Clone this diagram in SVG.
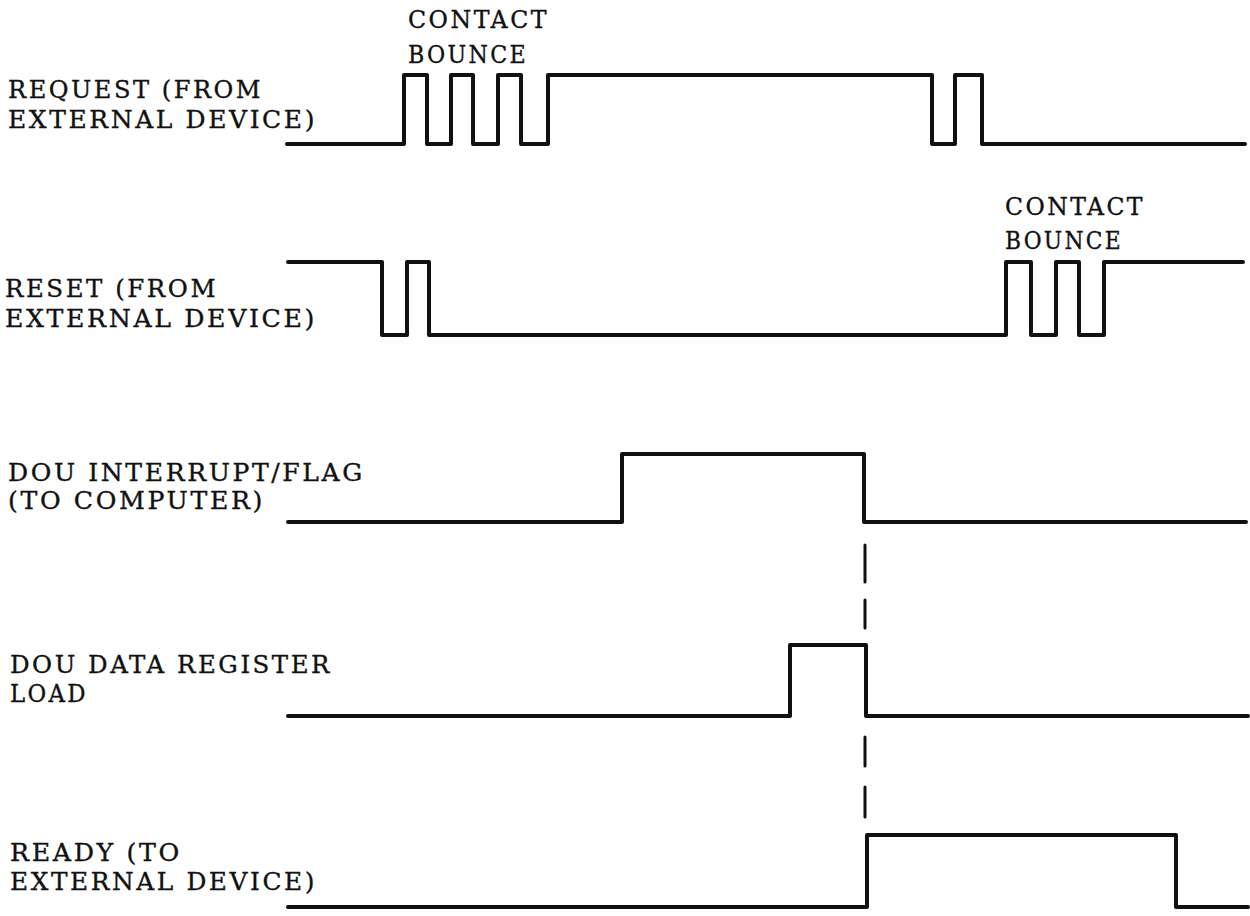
<svg xmlns="http://www.w3.org/2000/svg" width="1250" height="916" viewBox="0 0 1250 916">
<style>
.lbl{font-family:"DejaVu Serif","Liberation Serif",serif;font-size:24px;letter-spacing:2.5px;fill:#111;stroke:#111;stroke-width:0.35;}
.wave{fill:none;stroke:#111;stroke-width:4;stroke-linejoin:round;stroke-linecap:round;}
.dash{fill:none;stroke:#111;stroke-width:3;stroke-linecap:round;}
</style>
<rect width="1250" height="916" fill="#ffffff"/>
<g id="request">
<text class="lbl" x="8" y="98" textLength="255" lengthAdjust="spacingAndGlyphs">REQUEST (FROM</text>
<text class="lbl" x="8" y="128" textLength="309" lengthAdjust="spacingAndGlyphs">EXTERNAL DEVICE)</text>
<text class="lbl" x="408" y="28" textLength="141" lengthAdjust="spacingAndGlyphs">CONTACT</text>
<text class="lbl" x="408" y="63" textLength="120" lengthAdjust="spacingAndGlyphs">BOUNCE</text>
<path class="wave" d="M287,144 H404 V75 H427 V144 H451 V75 H473 V144 H498 V75 H521 V144 H548 V75 H932 V144 H955 V75 H982 V144 H1245"/>
</g>
<g id="reset">
<text class="lbl" x="5" y="297" textLength="213" lengthAdjust="spacingAndGlyphs">RESET (FROM</text>
<text class="lbl" x="5" y="327" textLength="312" lengthAdjust="spacingAndGlyphs">EXTERNAL DEVICE)</text>
<text class="lbl" x="1005" y="215" textLength="140" lengthAdjust="spacingAndGlyphs">CONTACT</text>
<text class="lbl" x="1005" y="249" textLength="118" lengthAdjust="spacingAndGlyphs">BOUNCE</text>
<path class="wave" d="M288,262 H382 V335 H407 V262 H429 V335 H1006 V262 H1031 V335 H1056 V262 H1079 V335 H1104 V262 H1243"/>
</g>
<g id="interrupt">
<text class="lbl" x="8" y="481" textLength="357" lengthAdjust="spacingAndGlyphs">DOU INTERRUPT/FLAG</text>
<text class="lbl" x="8" y="509" textLength="257" lengthAdjust="spacingAndGlyphs">(TO COMPUTER)</text>
<path class="wave" d="M288,522 H622 V454 H864 V522 H1246"/>
</g>
<g id="dataload">
<text class="lbl" x="10" y="673" textLength="322" lengthAdjust="spacingAndGlyphs">DOU DATA REGISTER</text>
<text class="lbl" x="10" y="702" textLength="78" lengthAdjust="spacingAndGlyphs">LOAD</text>
<path class="wave" d="M288,716 H790 V645 H866 V716 H1248"/>
</g>
<g id="ready">
<text class="lbl" x="10" y="861" textLength="172" lengthAdjust="spacingAndGlyphs">READY (TO</text>
<text class="lbl" x="10" y="890" textLength="307" lengthAdjust="spacingAndGlyphs">EXTERNAL DEVICE)</text>
<path class="wave" d="M288,907 H867 V835 H1176 V907 H1248"/>
</g>
<g id="connectors">
<path class="dash" d="M865,545 V582 M865,600 V628 M865,737 V766 M865,787 V817"/>
</g>
</svg>
